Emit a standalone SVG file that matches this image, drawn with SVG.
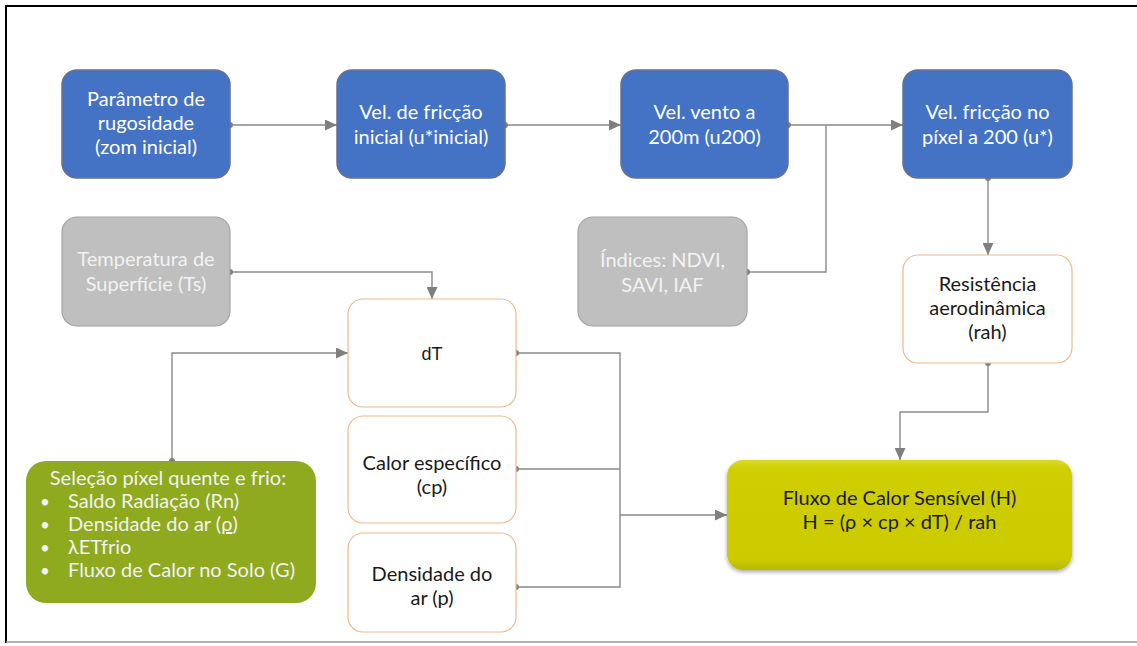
<svg xmlns="http://www.w3.org/2000/svg" width="1137" height="646" viewBox="0 0 1137 646">
<style>
.t{font-family:Lato,"Open Sans","Liberation Sans",sans-serif;font-size:20px;text-anchor:middle}
.blue{fill:#4472C4;stroke:#66718c;stroke-width:1.5}
.gray{fill:#BFBFBF;stroke:#a3a3a3;stroke-width:1.2}
.org{fill:#FFFFFF;stroke:#EDB98D;stroke-width:1.2}
.w{fill:#FFFFFF}
.lg{fill:#F2F2F2}
.dk{fill:#1a1a1a}
.c{fill:none;stroke:#8a8a8a;stroke-width:1.4}
.d{fill:#7f7f7f}
</style>
<defs>
<marker id="ah" markerWidth="12" markerHeight="11" refX="12" refY="5.5" orient="auto" markerUnits="userSpaceOnUse">
<path d="M0,0 L12,5.5 L0,11 Z" fill="#7f7f7f"/>
</marker>
<linearGradient id="yg" x1="0" y1="0" x2="0" y2="1">
<stop offset="0" stop-color="#DADA2A"/>
<stop offset="0.08" stop-color="#CECE05"/>
<stop offset="0.9" stop-color="#CBCB00"/>
<stop offset="1" stop-color="#B8B800"/>
</linearGradient>
<filter id="sh" x="-5%" y="-10%" width="110%" height="125%">
<feGaussianBlur in="SourceAlpha" stdDeviation="2"/>
<feOffset dy="2"/>
<feComponentTransfer><feFuncA type="linear" slope="0.35"/></feComponentTransfer>
<feMerge><feMergeNode/><feMergeNode in="SourceGraphic"/></feMerge>
</filter>
</defs>
<rect x="0" y="0" width="1137" height="646" fill="#FFFFFF"/>
<g id="frame">
<line x1="5" y1="6" x2="1137" y2="6" stroke="#000" stroke-width="2"/>
<line x1="6" y1="5" x2="6" y2="643" stroke="#000" stroke-width="2"/>
<line x1="6" y1="642" x2="1137" y2="642" stroke="#9a9a9a" stroke-width="1.5"/>
</g>
<g id="connectors">
<path class="c" d="M230,125 H337" marker-end="url(#ah)"/>
<path class="c" d="M505,125 H621" marker-end="url(#ah)"/>
<path class="c" d="M788,125 H903" marker-end="url(#ah)"/>
<path class="c" d="M747,272 H826 V125"/>
<path class="c" d="M988,178 V255" marker-end="url(#ah)"/>
<path class="c" d="M230,272 H432 V299" marker-end="url(#ah)"/>
<path class="c" d="M172,461 V353 H348" marker-end="url(#ah)"/>
<path class="c" d="M516,353 H620 V515 H727" marker-end="url(#ah)"/>
<path class="c" d="M516,469 H620"/>
<path class="c" d="M516,587 H620 V515"/>
<path class="c" d="M988,363 V412 H900 V460" marker-end="url(#ah)"/>
<circle class="d" cx="230" cy="125" r="3"/>
<circle class="d" cx="505" cy="125" r="3"/>
<circle class="d" cx="788" cy="125" r="3"/>
<circle class="d" cx="747" cy="272" r="3"/>
<circle class="d" cx="988" cy="178" r="3"/>
<circle class="d" cx="230" cy="272" r="3"/>
<circle class="d" cx="172" cy="461" r="3"/>
<circle class="d" cx="516" cy="353" r="3"/>
<circle class="d" cx="516" cy="469" r="3"/>
<circle class="d" cx="516" cy="587" r="3"/>
<circle class="d" cx="988" cy="363" r="3"/>
</g>
<g id="n_rugosidade">
<rect class="blue" x="62" y="70" width="168" height="108" rx="15"/>
<text class="t w" x="146" y="106">Parâmetro de</text>
<text class="t w" x="146" y="130">rugosidade</text>
<text class="t w" x="146" y="154">(zom inicial)</text>
</g>
<g id="n_ufriccao_inicial">
<rect class="blue" x="337" y="70" width="168" height="108" rx="15"/>
<text class="t w" x="421" y="119">Vel. de fricção</text>
<text class="t w" x="421" y="144">inicial (u*inicial)</text>
</g>
<g id="n_u200">
<rect class="blue" x="621" y="70" width="167" height="108" rx="15"/>
<text class="t w" x="704.5" y="119">Vel. vento a</text>
<text class="t w" x="704.5" y="144">200m (u200)</text>
</g>
<g id="n_ustar">
<rect class="blue" x="903" y="70" width="169" height="108" rx="15"/>
<text class="t w" x="987.5" y="119">Vel. fricção no</text>
<text class="t w" x="987.5" y="144">píxel a 200 (u*)</text>
</g>
<g id="n_ts">
<rect class="gray" x="62" y="217" width="168" height="109" rx="15"/>
<text class="t lg" x="146" y="266">Temperatura de</text>
<text class="t lg" x="146" y="291">Superfície (Ts)</text>
</g>
<g id="n_indices">
<rect class="gray" x="578" y="217" width="169" height="109" rx="15"/>
<text class="t lg" x="662.5" y="267">Índices: NDVI,</text>
<text class="t lg" x="662.5" y="292">SAVI, IAF</text>
</g>
<g id="n_rah">
<rect class="org" x="903" y="255" width="169" height="108" rx="15"/>
<text class="t dk" x="987.5" y="291">Resistência</text>
<text class="t dk" x="987.5" y="315">aerodinâmica</text>
<text class="t dk" x="987.5" y="339">(rah)</text>
</g>
<g id="n_dT">
<rect class="org" x="348" y="299" width="168" height="108" rx="15"/>
<text x="432" y="360" font-family="'Liberation Sans',Arial,sans-serif" font-size="18" text-anchor="middle" fill="#1a1a1a">dT</text>
</g>
<g id="n_cp">
<rect class="org" x="348" y="416" width="168" height="107" rx="15"/>
<text class="t dk" x="432" y="470">Calor específico</text>
<text class="t dk" x="432" y="494">(cp)</text>
</g>
<g id="n_rho">
<rect class="org" x="348" y="533" width="168" height="99" rx="15"/>
<text class="t dk" x="432" y="581">Densidade do</text>
<text class="t dk" x="432" y="605">ar (p)</text>
</g>
<g id="n_selecao">
<rect x="26" y="461" width="290" height="142" rx="20" fill="#8FAA1E"/>
<text class="t lg" x="168" y="485">Seleção píxel quente e frio:</text>
<g font-family="Lato,'Open Sans','Liberation Sans',sans-serif" font-size="20" fill="#F2F2F2">
<text x="40" y="508" font-size="17">•</text><text x="68" y="508">Saldo Radiação (Rn)</text>
<text x="40" y="531" font-size="17">•</text><text x="68" y="531">Densidade do ar (<tspan text-decoration="underline">ρ</tspan>)</text>
<text x="40" y="554" font-size="17">•</text><text x="68" y="554">λETfrio</text>
<text x="40" y="577" font-size="17">•</text><text x="68" y="577">Fluxo de Calor no Solo (G)</text>
</g>
</g>
<g id="n_H">
<rect x="727" y="460" width="345" height="110" rx="16" fill="url(#yg)" filter="url(#sh)"/>
<text class="t dk" x="899.5" y="505">Fluxo de Calor Sensível (H)</text>
<text class="t dk" x="899.5" y="529">H = (ρ × cp × dT) / rah</text>
</g>
</svg>
